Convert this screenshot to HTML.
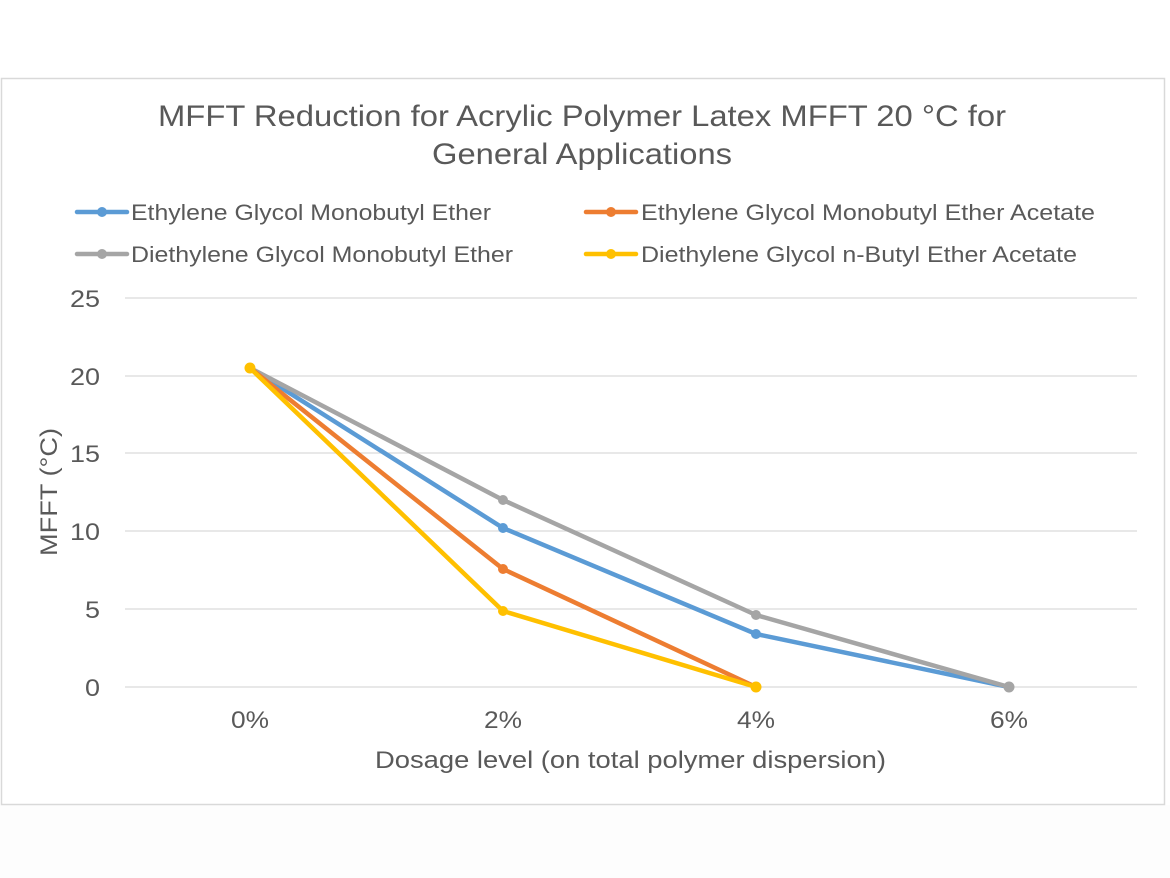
<!DOCTYPE html>
<html><head><style>
body{margin:0;background:#fff;}
svg{display:block;font-family:"Liberation Sans",sans-serif;}
</style></head><body>
<svg width="1170" height="878" viewBox="0 0 1170 878">
<rect x="0" y="805" width="1170" height="73" fill="#fdfdfd"/>
<rect x="1.5" y="78.5" width="1163" height="726" fill="#fff" stroke="#d9d9d9" stroke-width="1.5"/>
<g fill="#595959" font-size="30" lengthAdjust="spacingAndGlyphs">
<text x="158" y="126" textLength="848" lengthAdjust="spacingAndGlyphs">MFFT Reduction for Acrylic Polymer Latex MFFT 20 °C for</text>
<text x="432" y="164" textLength="300" lengthAdjust="spacingAndGlyphs">General Applications</text>
</g>
<g font-size="22" fill="#595959">
<line x1="77" y1="212" x2="127" y2="212" stroke="#5b9bd5" stroke-width="4.5" stroke-linecap="round"/><circle cx="102" cy="212" r="5" fill="#5b9bd5"/>
<text x="131" y="220" textLength="360" lengthAdjust="spacingAndGlyphs">Ethylene Glycol Monobutyl Ether</text>
<line x1="77" y1="254" x2="127" y2="254" stroke="#a5a5a5" stroke-width="4.5" stroke-linecap="round"/><circle cx="102" cy="254" r="5" fill="#a5a5a5"/>
<text x="131" y="262" textLength="382" lengthAdjust="spacingAndGlyphs">Diethylene Glycol Monobutyl Ether</text>
<line x1="586" y1="212" x2="636" y2="212" stroke="#ed7d31" stroke-width="4.5" stroke-linecap="round"/><circle cx="611" cy="212" r="5" fill="#ed7d31"/>
<text x="641" y="220" textLength="454" lengthAdjust="spacingAndGlyphs">Ethylene Glycol Monobutyl Ether Acetate</text>
<line x1="586" y1="254" x2="636" y2="254" stroke="#ffc000" stroke-width="4.5" stroke-linecap="round"/><circle cx="611" cy="254" r="5" fill="#ffc000"/>
<text x="641" y="262" textLength="436" lengthAdjust="spacingAndGlyphs">Diethylene Glycol n-Butyl Ether Acetate</text>
</g>
<g stroke="#d9d9d9" stroke-width="1.3">
<line x1="125" y1="298" x2="1137" y2="298"/>
<line x1="125" y1="376" x2="1137" y2="376"/>
<line x1="125" y1="453" x2="1137" y2="453"/>
<line x1="125" y1="531" x2="1137" y2="531"/>
<line x1="125" y1="609" x2="1137" y2="609"/>
<line x1="125" y1="687" x2="1137" y2="687"/>
</g>
<g font-size="24" fill="#595959">
<text x="70" y="307" textLength="30" lengthAdjust="spacingAndGlyphs">25</text>
<text x="70" y="385" textLength="30" lengthAdjust="spacingAndGlyphs">20</text>
<text x="70" y="462" textLength="30" lengthAdjust="spacingAndGlyphs">15</text>
<text x="70" y="540" textLength="30" lengthAdjust="spacingAndGlyphs">10</text>
<text x="85" y="618" textLength="15" lengthAdjust="spacingAndGlyphs">5</text>
<text x="85" y="696" textLength="15" lengthAdjust="spacingAndGlyphs">0</text>
</g>
<g font-size="24" fill="#595959">
<text x="231" y="728" textLength="38" lengthAdjust="spacingAndGlyphs">0%</text>
<text x="484" y="728" textLength="38" lengthAdjust="spacingAndGlyphs">2%</text>
<text x="737" y="728" textLength="38" lengthAdjust="spacingAndGlyphs">4%</text>
<text x="990" y="728" textLength="38" lengthAdjust="spacingAndGlyphs">6%</text>
<text x="375" y="768" textLength="511" lengthAdjust="spacingAndGlyphs">Dosage level (on total polymer dispersion)</text>
<text transform="translate(57,556) rotate(-90)" textLength="128" lengthAdjust="spacingAndGlyphs">MFFT (°C)</text>
</g>
<g fill="none" stroke-width="4.5" stroke-linejoin="round">
<polyline points="250,368 503,528 756,634 1009,687" stroke="#5b9bd5"/>
<polyline points="250,368 503,500 756,615 1009,687" stroke="#a5a5a5"/>
<polyline points="250,368 503,569 756,687" stroke="#ed7d31"/>
<polyline points="250,368 503,611 756,687" stroke="#ffc000"/>
</g>
<g fill="#5b9bd5"><circle cx="503" cy="528" r="5"/><circle cx="756" cy="634" r="5"/></g>
<g fill="#a5a5a5"><circle cx="503" cy="500" r="5"/><circle cx="756" cy="615" r="5"/><circle cx="1009" cy="687" r="5.5"/></g>
<g fill="#ed7d31"><circle cx="503" cy="569" r="5"/></g>
<g fill="#ffc000"><circle cx="503" cy="611" r="5"/><circle cx="756" cy="687" r="5.5"/><circle cx="250" cy="368" r="5.5"/></g>
</svg>
</body></html>
